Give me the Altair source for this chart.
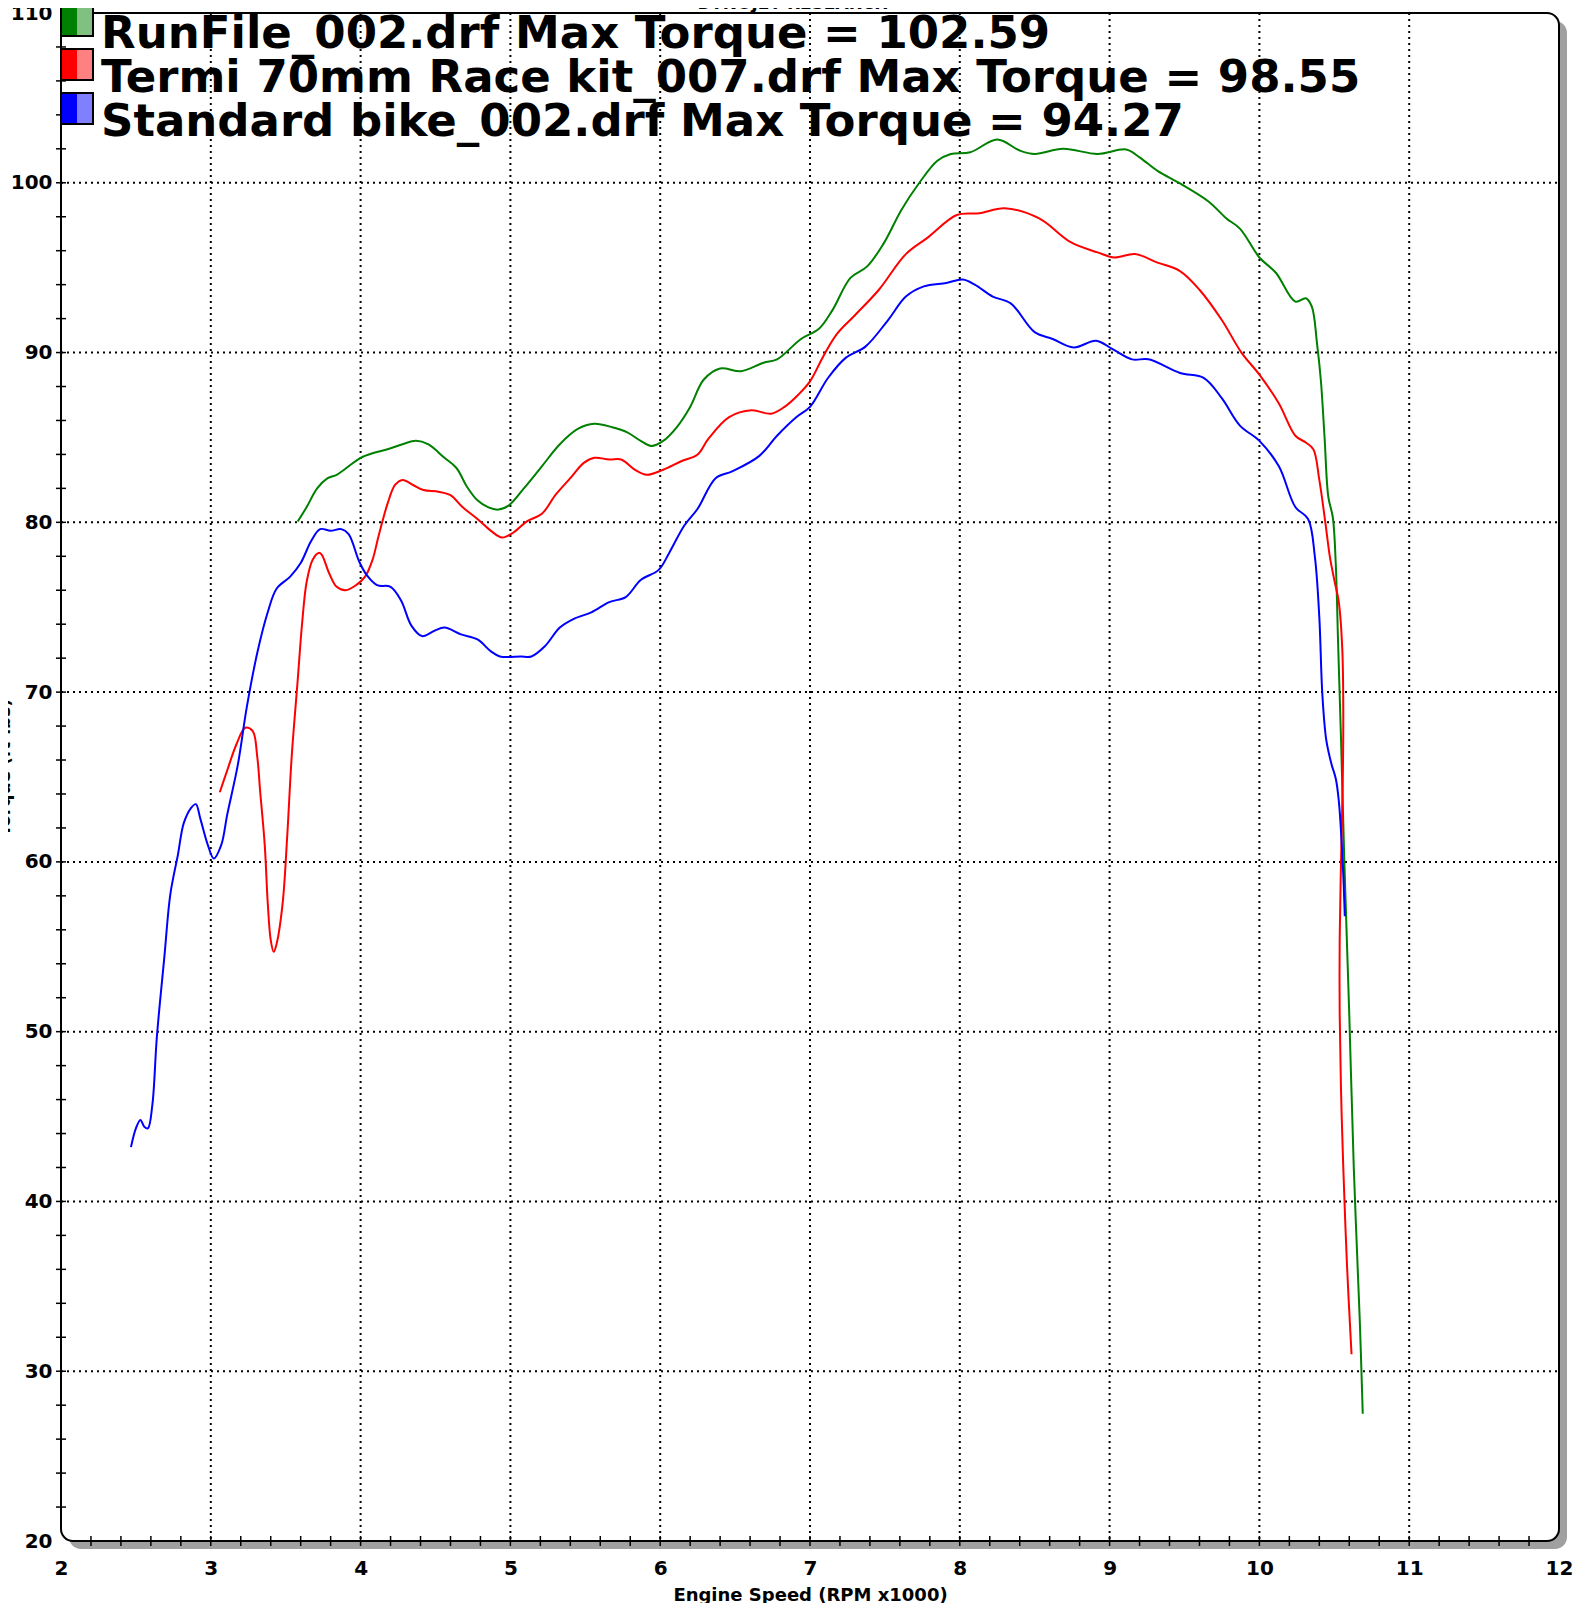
import altair as alt
import pandas as pd

# ---------------- data ----------------
series_names = [
    "RunFile_002.drf",
    "Termi 70mm Race kit_007.drf",
    "Standard bike_002.drf",
]
legend_labels = [
    "RunFile_002.drf Max Torque = 102.59",
    "Termi 70mm Race kit_007.drf Max Torque = 98.55",
    "Standard bike_002.drf Max Torque = 94.27",
]
line_colors = ["#008000", "#ff0000", "#0000ff"]
light_colors = ["#80c080", "#ff8080", "#8080ff"]

green_rpm = [3.58, 3.64, 3.71, 3.78, 3.84, 3.89, 4.0, 4.09, 4.18, 4.28, 4.37, 4.45, 4.56, 4.64,
             4.71, 4.78, 4.85, 4.92, 4.99, 5.09, 5.21, 5.33, 5.45, 5.56, 5.68, 5.78, 5.87, 5.94,
             6.02, 6.11, 6.2, 6.29, 6.4, 6.54, 6.69, 6.78, 6.94, 7.06, 7.15, 7.27, 7.38, 7.49,
             7.61, 7.73, 7.85, 7.94, 8.07, 8.25, 8.4, 8.5, 8.69, 8.92, 9.11, 9.2, 9.32, 9.47,
             9.66, 9.78, 9.87, 10.0, 10.11, 10.24, 10.31, 10.35, 10.385, 10.41, 10.435, 10.46,
             10.49, 10.51, 10.525, 10.545, 10.567, 10.6, 10.63, 10.67, 10.69]
green_tq = [80.05, 80.9, 82.0, 82.6, 82.8, 83.1, 83.8, 84.1, 84.3, 84.6, 84.8, 84.6, 83.8, 83.2,
            82.1, 81.3, 80.9, 80.75, 81.0, 82.0, 83.3, 84.6, 85.5, 85.8, 85.6, 85.3, 84.8, 84.5,
            84.8, 85.6, 86.8, 88.4, 89.06, 88.9, 89.4, 89.6, 90.8, 91.4, 92.5, 94.4, 95.06, 96.4,
            98.4, 100.0, 101.3, 101.7, 101.8, 102.55, 101.9, 101.7, 102.0, 101.7, 101.96, 101.5,
            100.7, 99.96, 98.9, 97.9, 97.3, 95.6, 94.7, 93.0, 93.2, 92.7, 90.5, 88.4, 85.0, 81.5,
            80.3, 77.5, 73.0, 67.2, 60.0, 51.0, 42.0, 33.0, 27.5]

red_rpm = [3.06, 3.11, 3.17, 3.23, 3.28, 3.31, 3.33, 3.36, 3.38, 3.40, 3.42, 3.44, 3.48, 3.51,
           3.54, 3.58, 3.61, 3.64, 3.68, 3.72, 3.74, 3.79, 3.84, 3.90, 3.97, 4.03, 4.08, 4.12,
           4.18, 4.23, 4.28, 4.35, 4.42, 4.52, 4.60, 4.68, 4.78, 4.87, 4.945, 5.02, 5.11, 5.21,
           5.30, 5.40, 5.49, 5.56, 5.66, 5.74, 5.83, 5.91, 6.02, 6.14, 6.25, 6.32, 6.46, 6.61,
           6.74, 6.83, 6.92, 7.0, 7.09, 7.18, 7.30, 7.46, 7.64, 7.79, 7.98, 8.13, 8.30, 8.53,
           8.74, 8.92, 9.03, 9.17, 9.32, 9.47, 9.60, 9.75, 9.88, 10.0, 10.13, 10.24, 10.31,
           10.36, 10.40, 10.44, 10.47, 10.50, 10.53, 10.553, 10.56, 10.556, 10.545, 10.536,
           10.536, 10.545, 10.56, 10.585, 10.615]
red_tq = [64.1, 65.4, 66.9, 67.9, 67.7, 66.2, 64.1, 61.0, 57.6, 55.4, 54.7, 55.2, 57.6, 61.5,
          66.2, 70.7, 74.1, 76.5, 77.8, 78.2, 78.1, 77.0, 76.2, 76.0, 76.3, 76.8, 77.8, 79.2,
          81.1, 82.2, 82.5, 82.2, 81.9, 81.8, 81.6, 80.9, 80.2, 79.5, 79.1, 79.4, 80.06, 80.5,
          81.6, 82.6, 83.5, 83.8, 83.7, 83.7, 83.1, 82.8, 83.1, 83.6, 84.0, 84.9, 86.2, 86.6,
          86.4, 86.8, 87.5, 88.3, 89.8, 91.1, 92.2, 93.7, 95.8, 96.8, 98.1, 98.2, 98.5, 97.9,
          96.5, 95.9, 95.6, 95.8, 95.3, 94.8, 93.7, 91.9, 90.0, 88.7, 87.0, 85.1, 84.7,
          84.3, 82.5, 80.0, 78.0, 76.6, 75.3, 72.6, 69.0, 64.5, 60.0, 55.5,
          51.0, 46.5, 42.0, 36.2, 31.0]

blue_rpm = [2.467, 2.50, 2.53, 2.556, 2.58, 2.61, 2.64, 2.69, 2.73, 2.78, 2.82, 2.87, 2.90, 2.93,
            2.98, 3.02, 3.07, 3.11, 3.18, 3.24, 3.31, 3.38, 3.44, 3.53, 3.60, 3.67, 3.73, 3.80,
            3.87, 3.92, 3.99, 4.04, 4.11, 4.20, 4.27, 4.34, 4.41, 4.49, 4.56, 4.67, 4.78, 4.87,
            4.93, 5.07, 5.14, 5.23, 5.33, 5.42, 5.54, 5.66, 5.77, 5.87, 5.99, 6.06, 6.16, 6.25,
            6.37, 6.48, 6.66, 6.78, 6.91, 7.0, 7.12, 7.24, 7.37, 7.52, 7.64, 7.76, 7.91, 8.02,
            8.10, 8.22, 8.34, 8.50, 8.62, 8.76, 8.91, 9.02, 9.15, 9.26, 9.47, 9.63, 9.75, 9.87,
            10.0, 10.13, 10.24, 10.325, 10.37, 10.40, 10.42, 10.446, 10.48, 10.51, 10.53,
            10.556, 10.57]
blue_tq = [43.2, 44.3, 44.8, 44.4, 44.3, 45.7, 49.7, 54.4, 58.1, 60.4, 62.3, 63.2, 63.4, 62.55,
           61.0, 60.2, 61.0, 62.8, 65.7, 69.1, 72.3, 74.7, 76.1, 76.8, 77.6, 78.9, 79.6, 79.5,
           79.6, 79.3, 77.7, 76.9, 76.3, 76.2, 75.4, 73.9, 73.3, 73.6, 73.8, 73.4, 73.1, 72.4,
           72.1, 72.1, 72.1, 72.7, 73.8, 74.3, 74.7, 75.3, 75.6, 76.6, 77.2, 78.2, 79.8, 80.8,
           82.6, 83.0, 83.9, 85.1, 86.2, 86.8, 88.5, 89.7, 90.35, 91.9, 93.3, 93.9, 94.1, 94.3,
           94.0, 93.3, 92.9, 91.2, 90.8, 90.3, 90.7, 90.2, 89.6, 89.6, 88.8, 88.5, 87.3, 85.7,
           84.8, 83.3, 80.9, 80.2, 78.0, 74.4, 69.9, 67.2, 65.8, 64.9, 63.6,
           60.0, 56.8]

x_label_values = [2, 3, 4, 5, 6, 7, 8, 9, 10, 11, 12]
y_label_values = [20, 30, 40, 50, 60, 70, 80, 90, 100, 110]
x_grid_values = [3, 4, 5, 6, 7, 8, 9, 10, 11]
y_grid_values = [30, 40, 50, 60, 70, 80, 90, 100]
x_tick_values = [round(2 + 0.2 * i, 1) for i in range(51)]
y_tick_values = [20 + 2 * i for i in range(46)]

# ---------------- layout ----------------
W, H = 1498, 1528
FONT = "DejaVu Sans"

rows = []
for name, xs, ys in [(series_names[0], green_rpm, green_tq),
                     (series_names[1], red_rpm, red_tq),
                     (series_names[2], blue_rpm, blue_tq)]:
    for i, (a, b) in enumerate(zip(xs, ys)):
        rows.append({"series": name, "rpm": a, "torque": b, "idx": i})
lines_df = pd.DataFrame(rows)

xscale = alt.Scale(domain=[2, 12], nice=False, zero=False)
yscale = alt.Scale(domain=[20, 110], nice=False, zero=False)

x_axis = alt.Axis(values=x_label_values, format="d", title="Engine Speed (RPM x1000)",
                  grid=False, ticks=False, domain=False, labelPadding=17, labelFlush=False,
                  labelFont=FONT, labelFontSize=20, labelFontWeight="bold",
                  labelColor="black", labelBaseline="top",
                  titleFont=FONT, titleFontSize=18, titleFontWeight="bold",
                  titleColor="black", titlePadding=8)
y_axis = alt.Axis(values=y_label_values, format="d", title="Torque (ft-lbs)",
                  grid=False, ticks=False, domain=False, labelPadding=9, labelFlush=False,
                  labelFont=FONT, labelFontSize=20, labelFontWeight="bold",
                  labelColor="black",
                  titleFont=FONT, titleFontSize=17, titleFontWeight="bold",
                  titleColor="black", titleX=-52, titleY=H / 2 - 10,
                  titleAngle=270, titleBaseline="alphabetic", titleAlign="center")

one = pd.DataFrame({"k": [0]})

def box(x1, x2, y1, y2, **kw):
    return alt.Chart(one).mark_rect(**kw).encode(
        x=alt.value(x1), x2=alt.value(x2), y=alt.value(y1), y2=alt.value(y2))

shadow = box(8, W + 8, 8, H + 8, color="#a0a0a0", cornerRadius=12)
inner = box(0, W, 0, H, color="white", cornerRadius=12)
frame = box(0, W, 0, H, fill=None, fillOpacity=0, stroke="black", strokeWidth=2,
            cornerRadius=12)

xgrid = alt.Chart(pd.DataFrame({"v": x_grid_values})).mark_rule(
    color="black", strokeWidth=2, strokeDash=[2, 4]).encode(
    x=alt.X("v:Q", scale=xscale, axis=x_axis), y=alt.value(0), y2=alt.value(H))
ygrid = alt.Chart(pd.DataFrame({"v": y_grid_values})).mark_rule(
    color="black", strokeWidth=2, strokeDash=[2, 4]).encode(
    y=alt.Y("v:Q", scale=yscale, axis=y_axis), x=alt.value(0), x2=alt.value(W))

xticks = alt.Chart(pd.DataFrame({"v": x_tick_values[1:-1]})).mark_rule(
    color="black", strokeWidth=1.5).encode(
    x=alt.X("v:Q", scale=xscale, axis=x_axis), y=alt.value(H - 5), y2=alt.value(H + 5))
yticks = alt.Chart(pd.DataFrame({"v": y_tick_values[1:-1]})).mark_rule(
    color="black", strokeWidth=1.5).encode(
    y=alt.Y("v:Q", scale=yscale, axis=y_axis), x=alt.value(-5), x2=alt.value(5))

lines = alt.Chart(lines_df).mark_line(strokeWidth=2, interpolate="catmull-rom").encode(
    x=alt.X("rpm:Q", scale=xscale, axis=x_axis),
    y=alt.Y("torque:Q", scale=yscale, axis=y_axis),
    color=alt.Color("series:N", scale=alt.Scale(domain=series_names, range=line_colors),
                    legend=None),
    detail="series:N",
    order="idx:Q",
)

layers = [shadow, inner, xgrid, ygrid, frame, xticks, yticks, lines]

# legend swatches + text
for i, (lab, dark, light) in enumerate(zip(legend_labels, line_colors, light_colors)):
    top = -8 + 44 * i
    layers.append(box(0, 32, top, top + 31, color=light))
    layers.append(box(1, 16, top + 1, top + 30, color=dark))
    layers.append(box(0, 32, top, top + 31, fill=None, fillOpacity=0, stroke="black",
                      strokeWidth=2))
    layers.append(alt.Chart(pd.DataFrame({"label": [lab]})).mark_text(
        align="left", baseline="alphabetic", font=FONT, fontWeight="bold", fontSize=45,
        color="black").encode(text="label:N", x=alt.value(40), y=alt.value(35 + 44 * i)))

layers.append(alt.Chart(pd.DataFrame({"label": ["DYNOJET RESEARCH"]})).mark_text(
    align="center", baseline="alphabetic", font=FONT, fontWeight="bold", fontSize=17,
    color="black").encode(text="label:N", x=alt.value(732), y=alt.value(-4)))

chart = alt.layer(*layers).properties(
    width=W, height=H,
    autosize=alt.AutoSizeParams(type="none"),
    padding={"left": 53, "top": 5, "right": 16, "bottom": 62},
).configure_view(stroke=None)

chart.save("out.html", embed_options={"renderer": "svg", "actions": False})
